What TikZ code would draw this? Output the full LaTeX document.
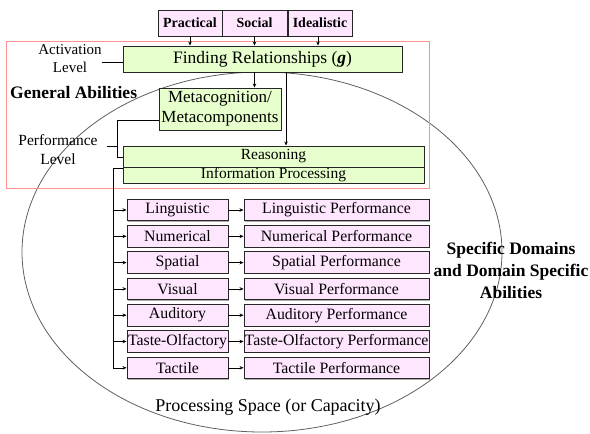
\documentclass[tikz,border=0pt]{standalone}
\usepackage{fontspec}
\setmainfont{Liberation Serif}
\usetikzlibrary{arrows.meta,shadows}
\definecolor{boxgreen}{HTML}{E6FFCC}
\definecolor{boxpink}{HTML}{FFE6FF}
\definecolor{framered}{HTML}{FF9090}
\definecolor{spacegray}{HTML}{606060}
\newcommand{\fs}[2]{\fontsize{#1}{#2}\selectfont}
\tikzset{
  box/.style={draw=black!85, line width=0.9pt, inner sep=0pt, align=center,
    drop shadow={shadow xshift=1pt, shadow yshift=-1pt, fill=black!40, opacity=0.8}},
  gbox/.style={box, fill=boxgreen},
  pbox/.style={box, fill=boxpink},
  lbl/.style={inner sep=0pt, align=center},
  arr/.style={-{Stealth[length=4pt,width=3.5pt]}, line width=0.6pt},
  ln/.style={line width=0.6pt},
}
\begin{document}
\begin{tikzpicture}[x=1pt,y=-1pt]
\useasboundingbox (0,0) rectangle (590,434);

% processing space
\draw[spacegray, line width=0.8pt] (262,252) ellipse [x radius=240, y radius=180];

% general abilities frame
\draw[framered, line width=0.8pt] (6,41) rectangle (429,188);

% influences on g
\node[pbox, minimum width=64pt, minimum height=26pt, font=\fs{14}{16}\bfseries] (prac) at (190,23) {Practical};
\node[pbox, minimum width=65pt, minimum height=26pt, font=\fs{14}{16}\bfseries] (soc) at (254.5,23) {Social};
\node[pbox, minimum width=64pt, minimum height=26pt, font=\fs{14}{16}\bfseries] (ideal) at (320,23) {Idealistic};

% general abilities
\node[gbox, minimum width=279pt, minimum height=26pt, font=\fs{17.5}{20}] (fr) at (262.5,59) {Finding Relationships (\textbf{\textit{g}})};
\node[gbox, minimum width=122pt, minimum height=42pt, font=\fs{17}{20}] (meta) at (220,109) {Metacognition/\\Metacomponents};
\node[gbox, minimum width=301pt, minimum height=21pt, font=\fs{15.5}{16}] (reas) at (273.5,156.5) {Reasoning};
\node[gbox, minimum width=301pt, minimum height=16pt, font=\fs{15.5}{16}] (ip) at (273.5,175) {Information Processing};

\draw[arr] (prac.south) -- (prac.south |- fr.north);
\draw[arr] (soc.south) -- (soc.south |- fr.north);
\draw[arr] ([xshift=-2pt]ideal.south) -- ([xshift=-2pt]ideal.south |- fr.north);
\draw[arr] (fr.south -| soc.south) -- (meta.north -| soc.south);
\draw[arr] ([xshift=23.5pt]fr.south) -- ([xshift=23.5pt]fr.south |- reas.north);

% level labels
\node[lbl, font=\fs{15}{18}] (act) at (70,59) {Activation\\Level};
\draw[ln] (act.east |- 0,62) -- (fr.west |- 0,62);
\node[lbl, font=\fs{15.5}{19}] (perf) at (58,150) {Performance\\Level};
\coordinate (pl) at (107,146);
\coordinate (bt) at (117,120);
\coordinate (bb) at (117,157);
\draw[ln] (pl) -- (bt |- pl);
\draw[ln] (meta.west |- bt) -- (bt) -- (bb) -- (reas.west |- bb);

\node[lbl, anchor=west, font=\fs{17.5}{20}\bfseries] (gen) at (10,93) {General Abilities};

% specific domains
\foreach \n/\l/\r [count=\i from 0] in {
  ling/Linguistic/Linguistic Performance,
  num/Numerical/Numerical Performance,
  spat/Spatial/Spatial Performance,
  vis/Visual/Visual Performance,
  aud/Auditory/Auditory Performance,
  taste/Taste-Olfactory/Taste-Olfactory Performance,
  tac/Tactile/Tactile Performance} {
  \node[pbox, minimum width=101pt, minimum height=21.5pt, font=\fs{15.8}{16}] (\n) at (177.5,210+26.3*\i) {\l};
  \node[pbox, minimum width=185pt, minimum height=21.5pt, font=\fs{15.8}{16}] (\n p) at (336.5,210+26.3*\i) {\r};
  \draw[arr] (\n.east) -- (\n p.west);
}
\coordinate (trunk) at (113,168);
\draw[ln] (ip.west |- trunk) -- (trunk) -- (trunk |- tac.west);
\foreach \n in {ling,num,spat,vis,aud,taste,tac}
  \draw[arr] (trunk |- \n.west) -- (\n.west);

\node[lbl, font=\fs{17.5}{22}\bfseries] (spec) at (511,270) {Specific Domains\\and Domain Specific\\Abilities};
\node[lbl, font=\fs{18}{20}] (cap) at (268,407) {Processing Space (or Capacity)};
\end{tikzpicture}
\end{document}
